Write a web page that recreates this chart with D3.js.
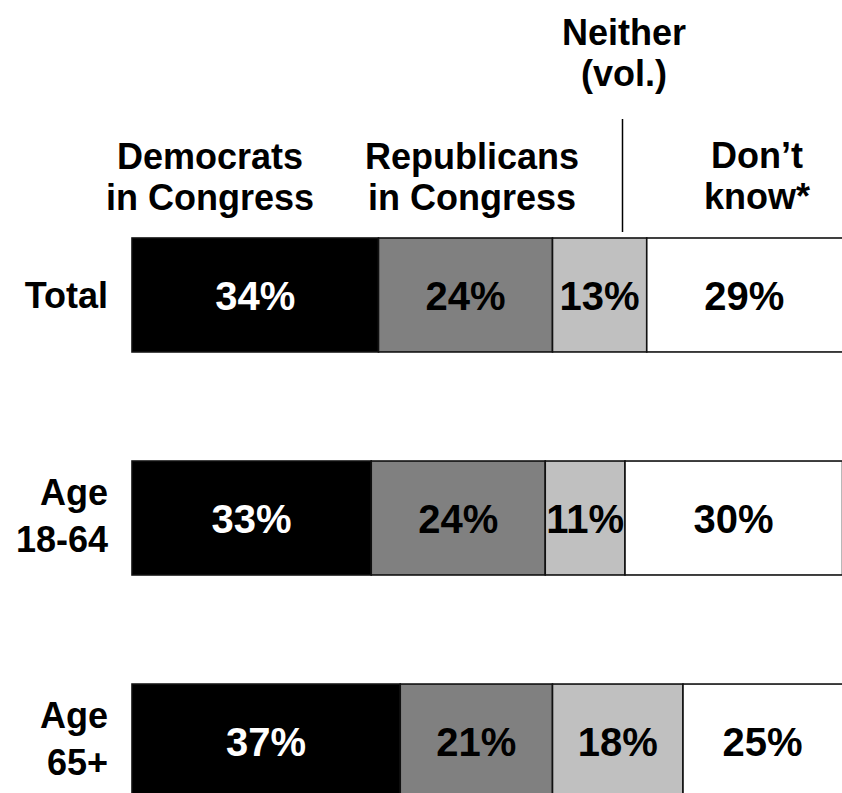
<!DOCTYPE html>
<html>
<head>
<meta charset="utf-8">
<script src="https://cdn.jsdelivr.net/npm/d3@7"></script>
<style>
  html, body { margin: 0; padding: 0; background: #fff; overflow: hidden; }
  svg { display: block; }
  text { font-family: "Liberation Sans", Arial, Helvetica, sans-serif; font-weight: bold; }
</style>
</head>
<body>
<svg id="chart" width="842" height="793"></svg>
<script>
// ---- data ----
const rows = ["Total", "Age 18-64", "Age 65+"];
const rowLabelLines = [["Total"], ["Age", "18-64"], ["Age", "65+"]];
const seriesNames = ["Democrats in Congress", "Republicans in Congress", "Neither (vol.)", "Don\u2019t know*"];
const headerLines = [["Democrats", "in Congress"], ["Republicans", "in Congress"], ["Neither", "(vol.)"], ["Don\u2019t", "know*"]];
const democrats   = [34, 33, 37];
const republicans = [24, 24, 21];
const neither     = [13, 11, 18];
const dontKnow    = [29, 30, 25];
const seriesColors = ["#000000", "#808080", "#c0c0c0", "#ffffff"];
const labelColors  = ["#ffffff", "#000000", "#000000", "#000000"];

// ---- layout ----
const svg = d3.select("#chart");
const x = d3.scaleLinear().domain([0, 100]).range([132, 132 + 725]);
const y = d3.scaleBand().domain(rows).range([238, 798]).paddingInner(0.489).paddingOuter(0);

const table = rows.map((r, i) => ({ row: r, vals: [democrats[i], republicans[i], neither[i], dontKnow[i]] }));
const stackData = table.map(d => {
  let cum = 0;
  return d.vals.map((v, k) => { const s = { row: d.row, k, v, x0: cum, x1: cum + v }; cum += v; return s; });
});

const g = svg.append("g");
const rowG = g.selectAll("g.row").data(stackData).join("g").attr("class", "row");

rowG.selectAll("rect").data(d => d).join("rect")
  .attr("x", d => x(d.x0))
  .attr("y", d => y(d.row))
  .attr("width", d => x(d.x1) - x(d.x0))
  .attr("height", y.bandwidth())
  .attr("fill", d => seriesColors[d.k])
  .attr("stroke", "#111")
  .attr("stroke-width", 1.6);

function segCenter(d) {
  const x0 = x(d.x0), x1 = Math.min(x(d.x1), 842);
  return (x0 + x1) / 2;
}

rowG.selectAll("text.val").data(d => d).join("text")
  .attr("class", "val")
  .attr("x", d => segCenter(d))
  .attr("y", d => y(d.row) + y.bandwidth() / 2 + 15)
  .attr("text-anchor", "middle")
  .attr("font-size", 40)
  .attr("fill", d => labelColors[d.k])
  .text(d => d.v + "%");

// row labels
const rl = g.selectAll("text.rowlab").data(rows).join("text")
  .attr("class", "rowlab")
  .attr("text-anchor", "end")
  .attr("font-size", 36)
  .attr("fill", "#000");
rl.each(function(r, i) {
  const lines = rowLabelLines[i];
  const cy = y(r) + y.bandwidth() / 2;
  const lh = 46.5;
  const first = lines.length > 1 ? cy - 13 : cy + 13;
  d3.select(this).selectAll("tspan").data(lines).join("tspan")
    .attr("x", 108)
    .attr("y", (l, j) => first + j * lh)
    .text(l => l);
});

// headers
const headerX = [210, 472, 624, 757];
const headerTopBaseline = [169, 169, 45, 168];
const hl = g.selectAll("text.head").data(seriesNames).join("text")
  .attr("class", "head")
  .attr("text-anchor", "middle")
  .attr("font-size", 36)
  .attr("fill", "#000");
hl.each(function(s, i) {
  d3.select(this).selectAll("tspan").data(headerLines[i]).join("tspan")
    .attr("x", headerX[i])
    .attr("y", (l, j) => headerTopBaseline[i] + j * 41)
    .text(l => l);
});

// leader line for Neither
g.append("line")
  .attr("x1", 622.5).attr("x2", 622.5)
  .attr("y1", 119).attr("y2", 232)
  .attr("stroke", "#000").attr("stroke-width", 1.5);
</script>
</body>
</html>
